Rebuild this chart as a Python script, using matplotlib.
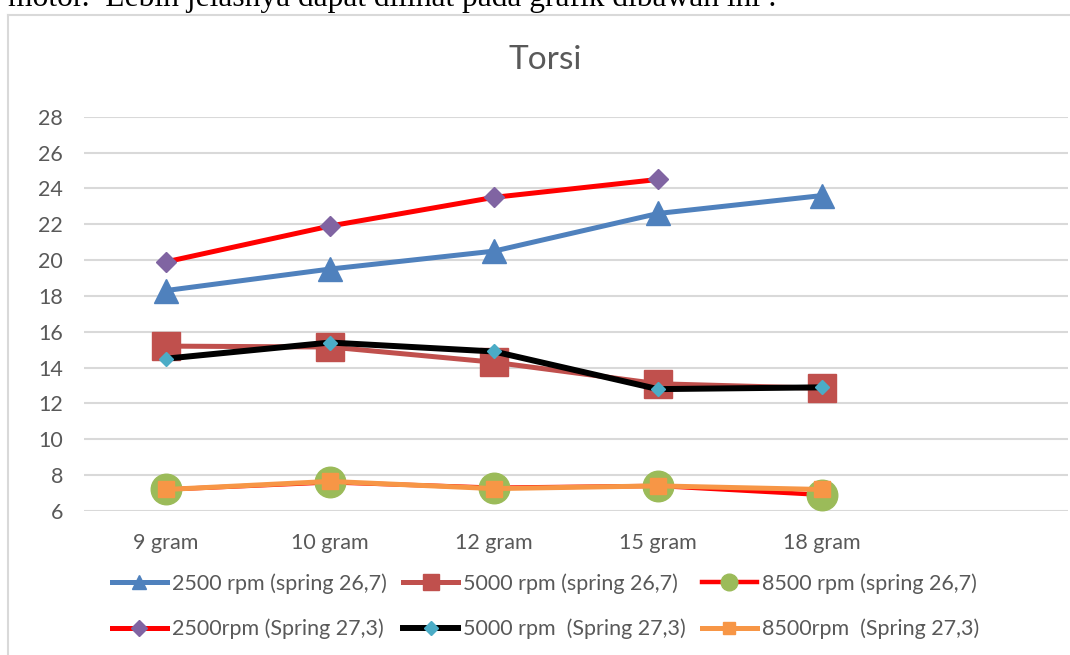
import matplotlib
matplotlib.use("Agg")
import matplotlib.pyplot as plt
from matplotlib.lines import Line2D

# Data
categories = ["9 gram", "10 gram", "12 gram", "15 gram", "18 gram"]
labels = [
    "2500 rpm (spring 26,7)",
    "5000 rpm (spring 26,7)",
    "8500 rpm (spring 26,7)",
    "2500rpm (Spring 27,3)",
    "5000 rpm  (Spring 27,3)",
    "8500rpm  (Spring 27,3)",
]
rpm2500_s267 = [18.3, 19.5, 20.5, 22.6, 23.6]
rpm5000_s267 = [15.2, 15.15, 14.3, 13.1, 12.85]
rpm8500_s267 = [7.2, 7.6, 7.3, 7.4, 6.9]
rpm2500_s273 = [19.9, 21.9, 23.5, 24.5]
rpm5000_s273 = [14.5, 15.4, 14.9, 12.8, 12.9]
rpm8500_s273 = [7.2, 7.65, 7.25, 7.4, 7.2]
yticks = list(range(6, 29, 2))

FONT = "Lato"
FS = 15.5
GRAY = "#595959"
GRID = "#D9D9D9"

W, H = 1070, 655
fig = plt.figure(figsize=(W / 100, H / 100), dpi=100)

# Intro sentence above the chart box
fig.text(8 / W, 1 - 6 / H, "motor.  Lebih jelasnya dapat dilihat pada grafik dibawah ini :",
         family="Liberation Serif", fontsize=22.7, color="black", va="baseline", ha="left")

# Chart box border
fig.add_artist(Line2D([8 / W, 8 / W], [1 - 15 / H, -0.05], color=GRID, lw=1.5,
                      transform=fig.transFigure))
fig.add_artist(Line2D([8 / W, 1.05], [1 - 15 / H, 1 - 15 / H], color=GRID, lw=1.5,
                      transform=fig.transFigure))

left, right = 84, 1068
top, bottom = 116.7, 511
ax = fig.add_axes([left / W, 1 - bottom / H, (right - left) / W, (bottom - top) / H])

x = list(range(len(categories)))
series = [
    (rpm2500_s267, dict(color="#4F81BD", lw=3.6, marker="^", ms=17, mfc="#4F81BD", mec="#4F81BD")),
    (rpm5000_s267, dict(color="#C0504D", lw=3.6, marker="s", ms=19.5, mfc="#C0504D", mec="#C0504D")),
    (rpm8500_s267, dict(color="#FF0000", lw=3.2, marker="o", ms=22, mfc="#9BBB59", mec="#9BBB59")),
    (rpm2500_s273, dict(color="#FF0000", lw=3.6, marker="D", ms=10, mfc="#8064A2", mec="#8064A2")),
    (rpm5000_s273, dict(color="#000000", lw=4.3, marker="D", ms=6.8, mfc="#4BACC6", mec="#4BACC6")),
    (rpm8500_s273, dict(color="#F79646", lw=3.6, marker="s", ms=11, mfc="#F79646", mec="#F79646")),
]
for vals, st in series:
    ax.plot(x[:len(vals)], vals, clip_on=False, solid_joinstyle="round",
            solid_capstyle="round", **st)

ax.set_xlim(-0.5, 5.5)
ax.set_ylim(6, 28)
ax.set_yticks(yticks)
ax.set_xticks(x)
ax.set_xticklabels(categories)
ax.grid(axis="y", color=GRID, lw=1.5)
ax.set_axisbelow(True)
for s in ax.spines.values():
    s.set_visible(False)
ax.tick_params(axis="both", length=0, labelsize=FS, labelcolor=GRAY)
ax.tick_params(axis="y", pad=15)
ax.tick_params(axis="x", pad=16)
for t in ax.get_xticklabels() + ax.get_yticklabels():
    t.set_family(FONT)

fig.text(545 / W, 1 - 60 / H, "Torsi", family=FONT, fontsize=24, color=GRAY,
         ha="center", va="center")

# Legend with smaller markers, filled row by row in three columns
handles = []
leg_ms = [10, 11, 12, 8.5, 7, 9]
for (vals, st), ms in zip(series, leg_ms):
    hs = dict(st)
    hs["ms"] = ms
    handles.append(Line2D([], [], **hs))
order = [0, 3, 1, 4, 2, 5]
leg = fig.legend([handles[i] for i in order], [labels[i] for i in order], ncol=3,
                 loc="center left", bbox_to_anchor=(112 / W, 1 - 606 / H), frameon=False,
                 prop={"family": FONT, "size": FS}, handlelength=2.55,
                 handletextpad=0.23, columnspacing=0.76, labelspacing=1.16,
                 borderpad=0, borderaxespad=0, numpoints=1)
for t in leg.get_texts():
    t.set_color(GRAY)

fig.savefig("out.png", dpi=100)
